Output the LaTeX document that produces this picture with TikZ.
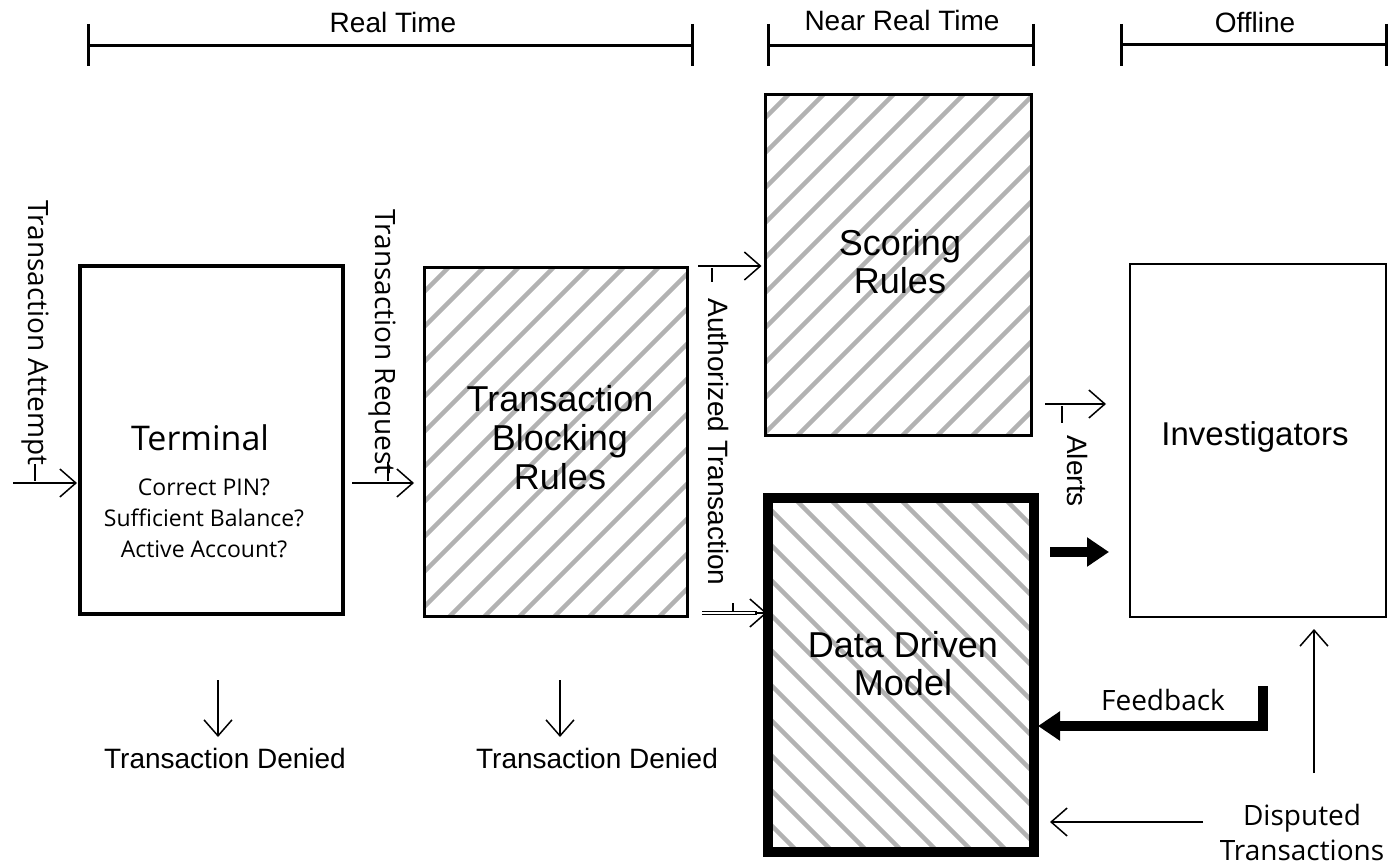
\documentclass[tikz,border=0pt]{standalone}
\usepackage{fontspec}
\setmainfont{Liberation Sans}
\newfontfamily\osfont{Open Sans}
\usetikzlibrary{arrows.meta}
\definecolor{hatchgray}{RGB}{178,178,178}
\begin{document}
\begin{tikzpicture}[x=1pt,y=-1pt,
  lab/.style={inner sep=0pt, font=\fontsize{28}{33}\selectfont},
  oslab/.style={inner sep=0pt, font=\osfont\fontsize{28}{35}\selectfont},
  big/.style={inner sep=0pt, align=center, font=\fontsize{36}{39}\selectfont},
  tl/.style={line width=3pt},
  tarrow/.style={line width=1.5pt,-{Straight Barb[length=16pt,width=28pt,line width=1.5pt]}},
  fatarrow/.style={line width=10pt,line join=miter,-{Triangle[length=22pt,width=28pt]}},
  bar/.style={line width=1.5pt},
  hatchline/.style={line width=4.5pt, hatchgray},
  box/.style={draw, inner sep=0pt, outer sep=0pt}
]
\fill[white] (0,0) rectangle (1389,864);
\useasboundingbox (0,0) rectangle (1389,864);

% ---------- time lines ----------
\node[lab] (rtl) at (393,22) {Real Time};
\coordinate (rtA) at (88,46); \coordinate (rtB) at (692,46);
\draw[tl] (rtA) -- (rtB);
\draw[tl] (88,24) -- (88,66); \draw[tl] (692,24) -- (692,66);

\node[lab] (nrtl) at (902,20) {Near Real Time};
\coordinate (nrtA) at (768,46); \coordinate (nrtB) at (1033,46);
\draw[tl] (nrtA) -- (nrtB);
\draw[tl] (768,24) -- (768,66); \draw[tl] (1033,24) -- (1033,66);

\node[lab] (offl) at (1255,22) {Offline};
\coordinate (offA) at (1121,45); \coordinate (offB) at (1386,45);
\draw[tl] (offA) -- (offB);
\draw[tl] (1121,24) -- (1121,66); \draw[tl] (1386,24) -- (1386,66);

% ---------- hatching ----------
\begin{scope}
\clip (424,267) rectangle (687,616);
\foreach \i in {-385,-350,...,385} \draw[hatchline] (555+\i-300,441+300) -- (555+\i+300,441-300);
\end{scope}
\begin{scope}
\clip (765,95) rectangle (1031,435);
\foreach \i in {-385,-350,...,385} \draw[hatchline] (898+\i-300,265+300) -- (898+\i+300,265-300);
\end{scope}
\begin{scope}
\clip (768,498) rectangle (1034,852);
\foreach \i in {-385,-350,...,385} \draw[hatchline] (901+\i-300,675-300) -- (901+\i+300,675+300);
\end{scope}

% ---------- boxes ----------
\node[box, line width=4pt, minimum width=263pt, minimum height=348pt] (term) at (211.5,440) {};
\node[box, line width=3pt, minimum width=263pt, minimum height=349pt] (blk) at (555.5,441.5) {};
\node[box, line width=3pt, minimum width=266pt, minimum height=340pt] (score) at (898,265) {};
\node[box, line width=10pt, minimum width=266pt, minimum height=354pt] (ddm) at (901,675) {};
\node[box, line width=1.5pt, minimum width=256pt, minimum height=353pt] (inv) at (1258,440.5) {};

% ---------- box texts ----------
\node[inner sep=0pt, font=\osfont\fontsize{34}{40}\selectfont] (termT) at (200,438) {Terminal};
\node[inner sep=0pt, align=center, font=\osfont\fontsize{23}{31}\selectfont] (termQ) at (204,518) {Correct PIN?\\Sufficient Balance?\\Active Account?};
\node[big] (blkT) at (560,438) {Transaction\\Blocking\\Rules};
\node[big, font=\fontsize{36}{38}\selectfont] (scoreT) at (900,262) {Scoring\\Rules};
\node[big, font=\fontsize{36}{38}\selectfont] (ddmT) at (903,664) {Data Driven\\Model};
\node[inner sep=0pt, font=\fontsize{33}{38}\selectfont] (invT) at (1255,437) {Investigators};

% ---------- labels ----------
\node[oslab, rotate=-90] (attL) at (35,333) {Transaction Attempt};
\node[oslab, rotate=-90] (reqL) at (382,342) {Transaction Request};
\node[lab, rotate=-90] (authL) at (718,442) {Authorized Transaction};
\node[lab, rotate=-90] (alL) at (1077,471) {Alerts};
\node[oslab] (fbL) at (1163,700) {Feedback};
\node[oslab, align=center] (dispL) at (1302,832) {Disputed\\Transactions};
\node[lab] (den1) at (225,758) {Transaction Denied};
\node[lab] (den2) at (597,758) {Transaction Denied};

% ---------- small bars ----------
\draw[bar] (35,464) -- (35,481);
\draw[bar] (388,462) -- (388,481);
\draw[bar] (712,268) -- (712,282);
\draw[bar] (733,603) -- (733,611);
\draw[bar] (1062,406) -- (1062,423);

% ---------- connectors ----------
\coordinate (attS) at (13,483);
\draw[tarrow, shorten >=3pt] (attS) -- (attS -| term.west);
\coordinate (reqS) at (352,483);
\draw[tarrow, shorten >=10pt] (reqS) -- (reqS -| blk.west);
\coordinate (scS) at (698,266);
\draw[tarrow, shorten >=3.5pt] (scS) -- (scS -| score.west);
\coordinate (ddS) at (702,613);
\coordinate (ddM) at (757,613);
\draw[line width=1pt, double, double distance=2pt] (ddS) -- (ddM);
\draw[tarrow, shorten >=1pt] (755,613) -- (ddS -| ddm.west);
\coordinate (alS) at (1045,404);
\draw[tarrow, shorten >=24pt] (alS) -- (alS -| inv.west);
\coordinate (fatS) at (1050,552);
\draw[fatarrow, shorten >=21pt] (fatS) -- (fatS -| inv.west);
\coordinate (upS) at (1314,773);
\draw[tarrow, shorten >=12pt] (upS) -- (upS |- inv.south);
\coordinate (fbS) at (1263,686);
\coordinate (fbC) at (1263,726);
\draw[fatarrow, shorten >=4pt] (fbS) -- (fbC) -- (fbC -| ddm.east);
\coordinate (dsS) at (1203,822);
\draw[tarrow, shorten >=16pt] (dsS) -- (dsS -| ddm.east);
\coordinate (d1S) at (218,680); \coordinate (d1E) at (218,737);
\draw[tarrow] (d1S) -- (d1E);
\coordinate (d2S) at (560,680); \coordinate (d2E) at (560,737);
\draw[tarrow] (d2S) -- (d2E);
\end{tikzpicture}
\end{document}
